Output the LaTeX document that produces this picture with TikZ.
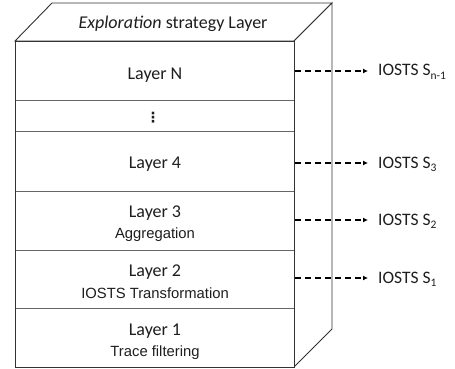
\documentclass[tikz,border=0pt]{standalone}
\usepackage{fontspec}
\setmainfont{Carlito}
\newfontfamily\arialf{Liberation Sans}
\newfontfamily\dejavu{DejaVu Sans}
\usetikzlibrary{arrows.meta}
\definecolor{edge}{HTML}{333333}
\definecolor{divider}{HTML}{666666}
\definecolor{txt}{HTML}{1E1E1E}
\tikzset{
  face/.style={draw=edge, line width=0.9pt, fill=white, line join=miter},
  layerbox/.style={draw=divider, line width=0.9pt, minimum width=279pt, inner sep=0pt, anchor=north west},
  cal/.style={font=\fontsize{18}{20}\selectfont, text=txt, inner sep=0pt, anchor=base},
  ari/.style={font=\arialf\fontsize{14.8}{16}\selectfont, text=txt, inner sep=0pt, anchor=base},
  outlabel/.style={font=\fontsize{17.5}{19}\selectfont, text=txt, inner sep=0pt, anchor=west, text height=10pt, text depth=0pt},
  dasharrow/.style={draw=black, line width=1.3pt, dash pattern=on 6pt off 4pt, -{Latex[length=5pt,width=5pt]}, shorten >=10pt}
}
\newcommand{\subtxt}[1]{\raisebox{-3.5pt}{\fontsize{11.5}{12}\selectfont #1}}
\begin{document}
\begin{tikzpicture}[x=1pt,y=-1pt]
\useasboundingbox (0,0) rectangle (455,369);
% box faces
\draw[face] (15,41) -- (52,3) -- (332,3) -- (294,41) -- cycle;
\draw[face] (294,41) -- (332,3) -- (332,329) -- (294,367) -- cycle;
\draw[face] (15,41) rectangle (294,367);
% layers
\node[layerbox, minimum height=59pt] (lN) at (15,41) {};
\node[layerbox, minimum height=31pt] (ldots) at (15,100) {};
\node[layerbox, minimum height=60pt] (l4) at (15,131) {};
\node[layerbox, minimum height=59pt] (l3) at (15,191) {};
\node[layerbox, minimum height=58pt] (l2) at (15,250) {};
\node[layerbox, minimum height=59pt] (l1) at (15,308) {};
\draw[edge, line width=0.9pt] (15,41) rectangle (294,367);
% texts
\node[cal] (tExp) at (173,29) {\textit{Exploration} strategy Layer};
\node[cal] (tN) at (155,80) {Layer N};
\node[font=\dejavu\bfseries\fontsize{14}{16}\selectfont, text=txt, inner sep=0pt] (tdots) at (153,117.5) {⋮};
\node[cal] (t4) at (155,168) {Layer 4};
\node[cal] (t3) at (155,217.5) {Layer 3};
\node[ari] (t3b) at (155,238) {Aggregation};
\node[cal] (t2) at (155,276.5) {Layer 2};
\node[ari] (t2b) at (155,298) {IOSTS Transformation};
\node[cal] (t1) at (155,335) {Layer 1};
\node[ari] (t1b) at (155,356) {Trace filtering};
% outputs
\node[outlabel] (sN) at (378,71) {IOSTS S\subtxt{n-1}};
\node[outlabel] (s3) at (378,163) {IOSTS S\subtxt{3}};
\node[outlabel] (s2) at (378,220) {IOSTS S\subtxt{2}};
\node[outlabel] (s1) at (378,278) {IOSTS S\subtxt{1}};
\draw[dasharrow] (sN.west -| lN.east) -- (sN.west);
\draw[dasharrow] (s3.west -| l4.east) -- (s3.west);
\draw[dasharrow] (s2.west -| l3.east) -- (s2.west);
\draw[dasharrow] (s1.west -| l2.east) -- (s1.west);
\end{tikzpicture}
\end{document}
